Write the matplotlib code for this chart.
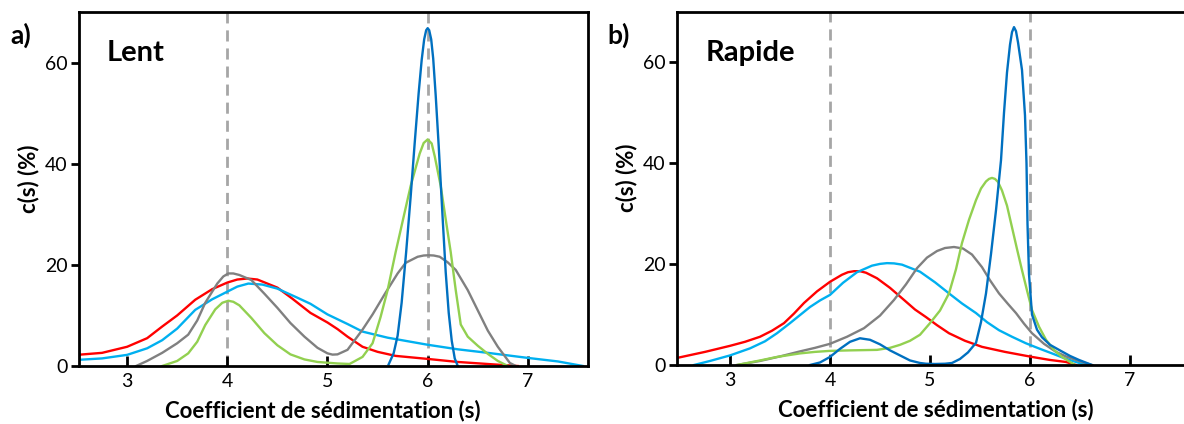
import matplotlib
matplotlib.use("Agg")
import matplotlib.pyplot as plt

plt.rcParams['font.family'] = ['Lato', 'DejaVu Sans']

# colours of the five samples
RED = '#ff0000'
SKY = '#00b0f0'
GREY = '#808080'
GREEN = '#92d050'
BLUE = '#0070c0'

# ---- panel a) Lent ----
a_red_x = [2.5, 2.75, 3.0, 3.2, 3.35, 3.5, 3.68, 3.85, 4.0, 4.1, 4.2, 4.3, 4.5, 4.65, 4.83, 5.0, 5.1,
           5.2, 5.35, 5.5, 5.68, 6.0, 6.3, 6.67, 6.9]
a_red_y = [2.2, 2.6, 3.8, 5.5, 7.8, 10.0, 13.1, 15.2, 16.5, 17.1, 17.3, 17.1, 15.5, 13.3, 10.5, 8.6, 7.3,
           5.8, 3.8, 2.8, 2.0, 1.4, 0.8, 0.3, 0.0]

a_sky_x = [2.5, 2.75, 3.0, 3.2, 3.35, 3.5, 3.68, 3.85, 4.0, 4.1, 4.21, 4.35, 4.5, 4.7, 4.83, 5.0, 5.2,
           5.35, 5.6, 6.0, 6.3, 6.6, 7.0, 7.3, 7.55]
a_sky_y = [1.2, 1.5, 2.2, 3.5, 5.1, 7.4, 11.1, 13.2, 14.7, 15.7, 16.3, 16.1, 15.3, 13.5, 12.3, 10.2, 8.3,
           6.8, 5.6, 4.2, 3.3, 2.6, 1.6, 0.9, 0.0]

a_grey_x = [3.09, 3.2, 3.35, 3.5, 3.61, 3.7, 3.78, 3.9, 3.96, 4.01, 4.06, 4.12, 4.24, 4.37, 4.5, 4.63,
            4.77, 4.9, 5.0, 5.05, 5.1, 5.2, 5.35, 5.45, 5.58, 5.7, 5.78, 5.9, 5.96, 6.01, 6.06, 6.12,
            6.2, 6.28, 6.4, 6.5, 6.6, 6.7, 6.82, 6.88]
a_grey_y = [0.0, 1.0, 2.6, 4.5, 6.2, 9.0, 12.5, 16.3, 17.7, 18.3, 18.3, 18.0, 17.0, 14.3, 11.5, 8.5,
            5.8, 3.6, 2.5, 2.25, 2.3, 3.2, 7.2, 10.2, 14.5, 18.3, 20.4, 21.6, 21.85, 21.9, 21.85, 21.6,
            20.5, 19.0, 15.0, 11.0, 7.0, 3.8, 0.6, 0.0]

a_green_x = [3.35, 3.5, 3.61, 3.7, 3.78, 3.88, 3.95, 4.01, 4.06, 4.12, 4.24, 4.37, 4.5, 4.63, 4.77, 4.9,
             5.1, 5.22, 5.35, 5.45, 5.53, 5.6, 5.68, 5.76, 5.83, 5.92, 5.96, 6.0, 6.04, 6.07, 6.13, 6.18,
             6.23, 6.28, 6.33, 6.4, 6.5, 6.6, 6.7, 6.8]
a_green_y = [0.0, 1.0, 2.5, 4.8, 8.1, 11.2, 12.5, 12.9, 12.7, 12.0, 9.5, 6.5, 4.1, 2.3, 1.3, 0.8,
             0.5, 0.4, 1.8, 4.5, 9.7, 15.0, 22.5, 29.5, 35.6, 42.0, 44.1, 44.8, 44.0, 41.5, 35.6, 29.0,
             22.5, 15.0, 8.2, 5.8, 4.0, 2.4, 1.0, 0.0]

a_blue_x = [5.61, 5.66, 5.70, 5.74, 5.785, 5.83, 5.87, 5.91, 5.94, 5.965, 5.985, 6.0, 6.015, 6.035,
            6.055, 6.08, 6.11, 6.15, 6.18, 6.21, 6.24, 6.27, 6.30]
a_blue_y = [0.3, 2.5, 6.0, 12.5, 22.5, 33.5, 44.0, 54.0, 60.5, 64.6, 66.4, 66.8, 66.4, 64.6,
            60.8, 53.5, 43.5, 29.0, 18.5, 10.5, 5.0, 1.5, 0.0]

# ---- panel b) Rapide ----
b_red_x = [2.47, 2.75, 3.0, 3.15, 3.3, 3.42, 3.54, 3.64, 3.74, 3.87, 4.0, 4.12, 4.18, 4.24, 4.3, 4.36,
           4.47, 4.6, 4.74, 4.85, 4.96, 5.07, 5.19, 5.35, 5.52, 5.75, 6.02, 6.2, 6.36, 6.46]
b_red_y = [1.4, 2.6, 3.8, 4.6, 5.6, 6.8, 8.3, 10.2, 12.3, 14.6, 16.5, 17.9, 18.4, 18.6, 18.6, 18.3,
           17.2, 15.3, 12.9, 11.0, 9.5, 7.9, 6.3, 4.8, 3.6, 2.6, 1.6, 1.0, 0.6, 0.0]

b_sky_x = [2.64, 2.8, 3.0, 3.2, 3.35, 3.47, 3.6, 3.7, 3.8, 3.9, 4.0, 4.13, 4.27, 4.42, 4.5, 4.57, 4.64,
           4.72, 4.9, 5.05, 5.19, 5.32, 5.46, 5.57, 5.69, 5.82, 5.96, 6.1, 6.22, 6.35, 6.46, 6.56]
b_sky_y = [0.0, 0.8, 1.9, 3.3, 4.7, 6.3, 8.3, 9.9, 11.5, 12.8, 13.9, 16.3, 18.4, 19.7, 20.05, 20.2,
           20.15, 19.9, 18.5, 16.4, 14.2, 12.2, 10.3, 8.5, 6.9, 5.6, 4.3, 3.2, 2.3, 1.3, 0.6, 0.0]

b_grey_x = [3.07, 3.3, 3.5, 3.7, 3.85, 4.0, 4.17, 4.34, 4.5, 4.64, 4.76, 4.87, 4.97, 5.07, 5.15, 5.24,
            5.33, 5.42, 5.52, 5.6, 5.69, 5.78, 5.86, 5.94, 6.02, 6.14, 6.26, 6.36, 6.46, 6.55, 6.62]
b_grey_y = [0.0, 0.8, 1.7, 2.7, 3.4, 4.2, 5.6, 7.3, 9.8, 12.9, 16.0, 19.2, 21.3, 22.6, 23.2, 23.4,
            23.1, 21.9, 19.4, 16.8, 14.2, 12.1, 10.3, 8.2, 6.3, 4.2, 2.6, 1.7, 1.0, 0.4, 0.0]

b_green_x = [3.07, 3.3, 3.47, 3.7, 3.85, 4.0, 4.2, 4.47, 4.6, 4.7, 4.8, 4.9, 5.0, 5.1, 5.19, 5.26, 5.32,
             5.39, 5.46, 5.51, 5.56, 5.59, 5.62, 5.65, 5.68, 5.72, 5.77, 5.82, 5.87, 5.92, 5.97, 6.02,
             6.09, 6.16, 6.24, 6.32, 6.45]
b_green_y = [0.0, 0.9, 1.6, 2.3, 2.6, 2.8, 2.9, 3.0, 3.4, 4.0, 4.8, 6.0, 8.3, 10.8, 14.2, 19.0, 24.2,
             28.8, 32.7, 35.0, 36.4, 36.9, 37.1, 36.9, 36.3, 34.6, 31.6, 27.3, 23.0, 18.8, 14.8, 10.9,
             7.6, 5.0, 3.0, 1.6, 0.0]

b_blue_x = [3.8, 3.9, 4.0, 4.1, 4.2, 4.3, 4.4, 4.5, 4.6, 4.69, 4.8, 4.9, 4.96, 5.05, 5.15, 5.22, 5.3,
            5.38, 5.46, 5.51, 5.56, 5.61, 5.66, 5.71, 5.74, 5.77, 5.8, 5.82, 5.84, 5.86, 5.88, 5.92,
            5.95, 5.965, 5.975, 5.99, 6.02, 6.07, 6.12, 6.2, 6.29, 6.4, 6.49, 6.62]
b_blue_y = [0.0, 0.5, 1.6, 3.2, 4.6, 5.3, 5.0, 4.1, 2.9, 2.0, 0.9, 0.4, 0.25, 0.2, 0.25, 0.4, 1.2,
            2.5, 4.4, 8.5, 14.2, 22.0, 30.7, 40.6, 50.0, 58.0, 63.5, 66.0, 67.0, 66.2, 64.0, 58.5,
            49.5, 40.0, 28.0, 18.0, 10.0, 7.0, 5.5, 4.0, 3.0, 1.8, 1.0, 0.0]

x_ticks = [3, 4, 5, 6, 7]
y_ticks = [0, 20, 40, 60]
ref_lines = [4, 6]

W, H = 1184, 424
fig = plt.figure(figsize=(W / 100, H / 100), dpi=100)

ax_a = fig.add_axes([79 / W, (H - 366) / H, (588 - 79) / W, 354 / H])
ax_b = fig.add_axes([677 / W, (H - 365) / H, 513 / W, 353 / H])

panels = [
    (ax_a, (2.52, 7.6), 'a)', 'Lent', 0.479,
     [(a_red_x, a_red_y, RED), (a_sky_x, a_sky_y, SKY), (a_grey_x, a_grey_y, GREY),
      (a_green_x, a_green_y, GREEN), (a_blue_x, a_blue_y, BLUE)]),
    (ax_b, (2.47, 7.6), 'b)', 'Rapide', 0.505,
     [(b_red_x, b_red_y, RED), (b_sky_x, b_sky_y, SKY), (b_grey_x, b_grey_y, GREY),
      (b_green_x, b_green_y, GREEN), (b_blue_x, b_blue_y, BLUE)]),
]

for ax, xlim, tag, title, xlab_pos, curves in panels:
    for xv in ref_lines:
        ax.axvline(xv, color='#a6a6a6', lw=2, ls=(0, (4, 2.5)), zorder=1)
    for xs, ys, c in curves:
        ax.plot(xs, ys, color=c, lw=1.7, zorder=2, solid_joinstyle='round')
    ax.set_xlim(*xlim)
    ax.set_ylim(0, 70)
    ax.set_xticks(x_ticks)
    ax.set_yticks(y_ticks)
    ax.tick_params(axis='x', direction='in', length=7, width=2, pad=5, labelsize=14)
    ax.tick_params(axis='y', direction='out', length=6, width=2, pad=2, labelsize=14)
    for sp in ax.spines.values():
        sp.set_linewidth(2)
    ax.set_xlabel('Coefficient de sédimentation (s)', fontsize=16, fontweight='bold')
    ax.set_ylabel('c(s) (%)', fontsize=16, fontweight='bold')
    ax.xaxis.set_label_coords(xlab_pos, -0.095)
    ax.yaxis.set_label_coords(-0.077, 0.53)
    ax.text(0.055, 0.885, title, transform=ax.transAxes, fontsize=21, fontweight='bold',
            va='center', ha='left')
    ax.text(-0.135, 0.935, tag, transform=ax.transAxes, fontsize=19, fontweight='bold',
            va='center', ha='left')

fig.savefig('out.png', dpi=100)
